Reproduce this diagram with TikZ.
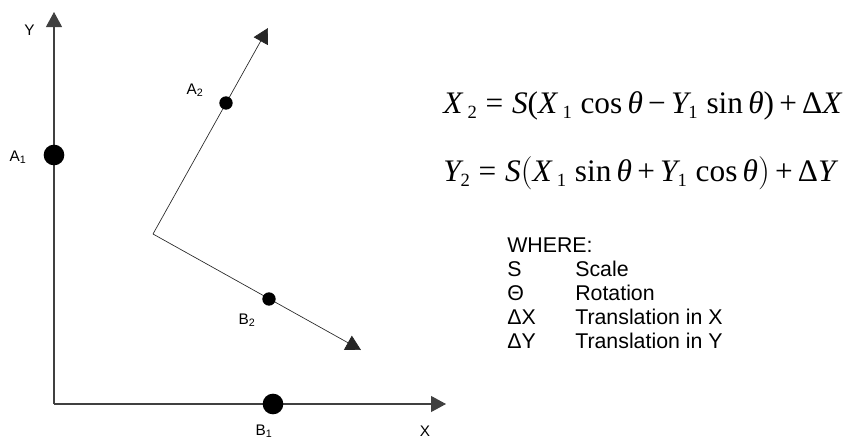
\documentclass[tikz,border=0pt]{standalone}
\usepackage{fontspec}
\setmainfont{Liberation Sans}
\newfontfamily\eqfont{Liberation Serif}
\usetikzlibrary{arrows.meta}
\newcommand{\eqsub}[1]{\raisebox{-0.35ex}{\fontsize{14pt}{14pt}\selectfont\eqfont #1}}
\newcommand{\ev}[1]{{\eqfont\itshape #1}}
\newcommand{\er}[1]{{\eqfont #1}}
\begin{document}
\begin{tikzpicture}[x=0.75pt,y=-0.75pt,
  axis/.style={draw=black!75,line width=0.8pt,-{Triangle[length=11.25pt,width=12pt]}},
  rot/.style={draw=black!85,line width=0.5pt,-{Triangle[length=11.25pt,width=12pt]}},
  bigdot/.style={circle,fill=black,inner sep=0pt,minimum size=15.5pt},
  smalldot/.style={circle,fill=black,inner sep=0pt,minimum size=10pt},
  lbl/.style={font=\fontsize{11.5pt}{13pt}\selectfont,inner sep=0pt},
  eq/.style={font=\fontsize{23.5pt}{26pt}\selectfont,inner sep=0pt,anchor=base west},
  legend/.style={font=\fontsize{16pt}{18pt}\selectfont,inner sep=0pt,anchor=base west}]
\useasboundingbox (0,0) rectangle (854,440);
% main axes
\coordinate (O) at (54,404);
\coordinate (Ytip) at (54,12);
\coordinate (Xtip) at (446,404);
\draw[axis] (O) -- (Ytip);
\draw[axis] (O) -- (Xtip);
\node[bigdot] (A1) at (54,155) {};
\node[bigdot] (B1) at (273,404) {};
% rotated frame
\coordinate (O2) at (153,234);
\coordinate (A2tip) at (268,28);
\coordinate (B2tip) at (361,350);
\draw[rot] (O2) -- (A2tip);
\draw[rot] (O2) -- (B2tip);
\node[smalldot] (A2) at (226,103) {};
\node[smalldot] (B2) at (269,299) {};
% labels
\node[lbl] (Ylbl) at (29.5,30.5) {Y};
\node[lbl] (Xlbl) at (425,431) {X};
\node[lbl] (A1lbl) at (18,157) {A\textsubscript{1}};
\node[lbl] (B1lbl) at (264,431) {B\textsubscript{1}};
\node[lbl] (A2lbl) at (195,90) {A\textsubscript{2}};
\node[lbl] (B2lbl) at (247,320) {B\textsubscript{2}};
% equations
\node[eq] (eq1) at (443,113) {\ev{X}\,\eqsub{2} \er{=} \ev{S}\er{(}\ev{X}\,\eqsub{1} \er{cos}\,\ev{θ}\,\er{−}\,\ev{Y}\eqsub{1} \er{sin}\,\ev{θ}\er{)}\,\er{+}\,\er{Δ}\ev{X}};
\node[eq] (eq2) at (443,181) {\ev{Y}\eqsub{2} \er{=} \ev{S}\er{\big(}\ev{X}\,\eqsub{1} \er{sin}\,\ev{θ}\,\er{+}\,\ev{Y}\eqsub{1} \er{cos}\,\ev{θ}\er{\big)}\,\er{+}\,\er{Δ}\ev{Y}};
% legend
\node[legend] (where) at (507,252) {WHERE:};
\node[legend] (s1) at (507,276) {S};
\node[legend] (s2) at (575,276) {Scale};
\node[legend] (t1) at (507,300) {Θ};
\node[legend] (t2) at (575,300) {Rotation};
\node[legend] (dx1) at (507,324) {ΔX};
\node[legend] (dx2) at (575,324) {Translation in X};
\node[legend] (dy1) at (507,348) {ΔY};
\node[legend] (dy2) at (575,348) {Translation in Y};
\end{tikzpicture}
\end{document}
